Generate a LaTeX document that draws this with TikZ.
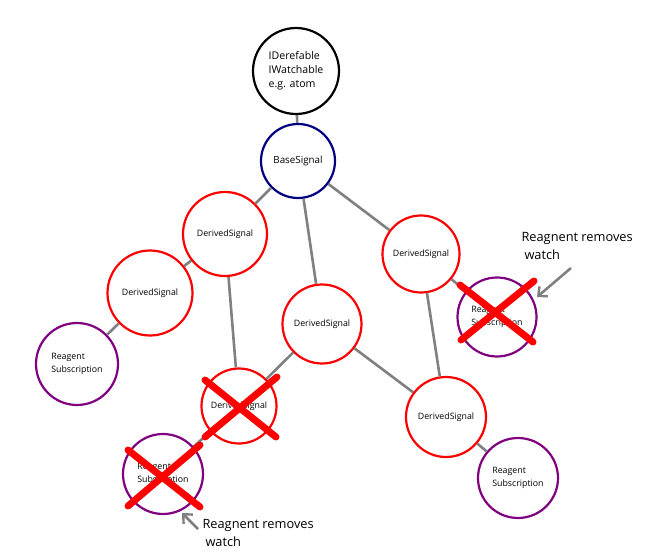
\documentclass[tikz,border=0pt]{standalone}
\usepackage{fontspec}
\setmainfont{Open Sans}
\usetikzlibrary{arrows.meta,calc}
\definecolor{sigred}{RGB}{255,0,0}
\definecolor{signavy}{RGB}{0,0,128}
\definecolor{sigpurple}{RGB}{128,0,128}
\definecolor{edgegray}{RGB}{128,128,128}
\tikzset{
  sig/.style={circle,draw,line width=2.2pt,inner sep=0pt,align=center,fill=white},
  atomnode/.style={sig,draw=black,minimum size=86pt,font=\fontsize{10.6}{14}\selectfont,align=left},
  basenode/.style={sig,draw=signavy,minimum size=74pt,font=\fontsize{9.8}{11}\selectfont},
  dernode/.style={sig,draw=sigred,font=\fontsize{8.8}{10}\selectfont},
  subnode/.style={sig,draw=sigpurple,font=\fontsize{8.8}{12.5}\selectfont,align=left},
  link/.style={draw=edgegray,line width=2.6pt},
  strike/.style={draw=sigred,line width=7pt,line cap=round},
  annot/.style={draw=edgegray,line width=2.6pt,-{Straight Barb[length=7pt,width=13pt,line width=2.4pt]}},
  note/.style={font=\fontsize{12.8}{18}\selectfont,align=left}
}
\begin{document}
\begin{tikzpicture}[x=1pt,y=-1pt]
\useasboundingbox (0,0) rectangle (654,559);
% nodes
\node[atomnode] (atom) at (296,71) {IDerefable\\IWatchable\\e.g. atom};
\node[basenode] (base) at (298,161) {BaseSignal};
\node[dernode,minimum size=84pt] (dA) at (225,234) {DerivedSignal};
\node[dernode,minimum size=85pt] (dB) at (150,293) {DerivedSignal};
\node[subnode,minimum size=82pt] (sL) at (77,364) {Reagent\\Subscription};
\node[dernode,minimum size=77pt] (dR) at (421,254) {DerivedSignal};
\node[subnode,minimum size=79pt] (sR) at (497,317) {Reagent\\Subscription};
\node[dernode,minimum size=79pt] (dC) at (322,324) {DerivedSignal};
\node[dernode,minimum size=75pt] (dX) at (239,406) {DerivedSignal};
\node[subnode,minimum size=80pt] (sX) at (163,474) {Reagent\\Subscription};
\node[dernode,minimum size=80pt] (dD) at (446,417) {DerivedSignal};
\node[subnode,minimum size=80pt] (sD) at (518,478) {Reagent\\Subscription};
% connectors
\path[link] (atom) -- (base);
\path[link] (base) -- (dA);
\path[link] (base) -- (dC);
\path[link] (base) -- (dR);
\path[link] (dA) -- (dB);
\path[link] (dA) -- (dX);
\path[link] (dB) -- (sL);
\path[link] (dC) -- (dX);
\path[link] (dC) -- (dD);
\path[link] (dR) -- (sR);
\path[link] (dR) -- (dD);
\path[link] (dX) -- (sX);
\path[link] (dD) -- (sD);
% crosses
\path[strike] ($(sR)+(-37,-32)$) -- ($(sR)+(36,25)$);
\path[strike] ($(sR)+(37,-36)$) -- ($(sR)+(-36,23)$);
\path[strike] ($(dX)+(-34,-26)$) -- ($(dX)+(37,31)$);
\path[strike] ($(dX)+(38,-29)$) -- ($(dX)+(-34,31)$);
\path[strike] ($(sX)+(-35,-24)$) -- ($(sX)+(37,33)$);
\path[strike] ($(sX)+(37,-29)$) -- ($(sX)+(-35,32)$);
% annotations
\node[note,anchor=north west] (n1) at (518,229) {Reagnent removes\\\hspace*{3pt}watch};
\node[note,anchor=north west] (n2) at (199,516) {Reagnent removes\\\hspace*{3pt}watch};
\coordinate (a1s) at (571,268);
\coordinate (a1e) at (537,297);
\coordinate (a2s) at (198,529);
\coordinate (a2e) at (182,513);
\path[annot] (a1s) -- (a1e);
\path[annot] (a2s) -- (a2e);
\end{tikzpicture}
\end{document}
